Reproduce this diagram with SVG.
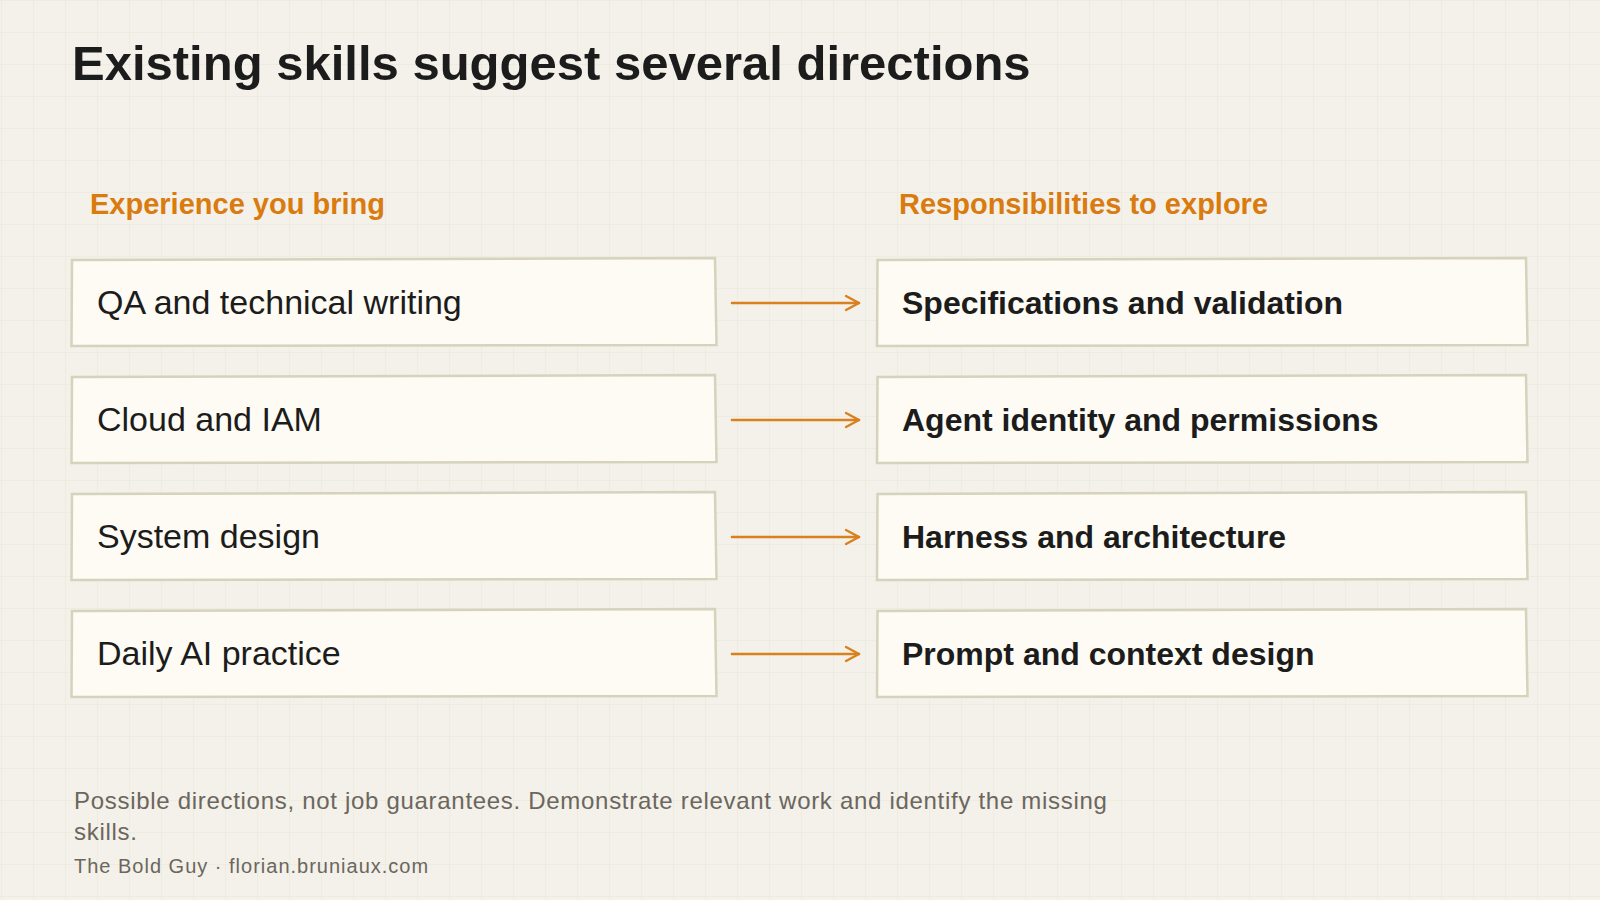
<svg xmlns="http://www.w3.org/2000/svg" width="1600" height="900" viewBox="0 0 1600 900">
  <defs>
    <pattern id="grid" width="32" height="32" patternUnits="userSpaceOnUse" x="1" y="0">
      <path d="M0 0 H32 M0 0 V32" fill="none" stroke="#e9e6da" stroke-width="1"/>
    </pattern>
    <marker id="chev" markerUnits="userSpaceOnUse" markerWidth="20" markerHeight="20" refX="15" refY="10" orient="auto">
      <path d="M2 3 L15 10 L2 17" fill="none" stroke="#d9801f" stroke-width="2.4" stroke-linecap="round" stroke-linejoin="round"/>
    </marker>
  </defs>
  <style>
    .title { font-family: "Liberation Sans", Arial, sans-serif; font-weight: 700; font-size: 49px; fill: #1c1c1c; }
    .head { font-family: "Liberation Sans", Arial, sans-serif; font-weight: 700; font-size: 29px; fill: #d97b0f; }
    .box { fill: #fdfbf3; stroke: #d6d2bd; stroke-width: 2.5; stroke-linejoin: miter; }
    .lt { font-family: "Liberation Sans", Arial, sans-serif; font-size: 34px; fill: #1c1c1c; }
    .rt { font-family: "Liberation Sans", Arial, sans-serif; font-weight: 700; font-size: 32px; fill: #1c1c1c; }
    .arrow { fill: none; stroke: #d9801f; stroke-width: 2.6; stroke-linecap: round; marker-end: url(#chev); }
    .foot { font-family: "Liberation Sans", Arial, sans-serif; font-size: 24px; letter-spacing: 0.7px; fill: #6b665e; }
    .credit { font-family: "Liberation Sans", Arial, sans-serif; font-size: 20px; letter-spacing: 1px; fill: #6b665e; }
  </style>

  <rect width="1600" height="900" fill="#f3f1e9"/>
  <rect width="1600" height="900" fill="url(#grid)"/>

  <text class="title" x="72" y="80">Existing skills suggest several directions</text>
  <text class="head" x="90" y="214">Experience you bring</text>
  <text class="head" x="899" y="214">Responsibilities to explore</text>

  <g id="left-1">
    <path class="box" d="M72 260 L715 258 L716.5 345 L71.5 346 Z"/>
    <text class="lt" x="97" y="314">QA and technical writing</text>
  </g>
  <g id="left-2">
    <path class="box" d="M72 377 L715 375 L716.5 462 L71.5 463 Z"/>
    <text class="lt" x="97" y="431">Cloud and IAM</text>
  </g>
  <g id="left-3">
    <path class="box" d="M72 494 L715 492 L716.5 579 L71.5 580 Z"/>
    <text class="lt" x="97" y="548">System design</text>
  </g>
  <g id="left-4">
    <path class="box" d="M72 611 L715 609 L716.5 696 L71.5 697 Z"/>
    <text class="lt" x="97" y="665">Daily AI practice</text>
  </g>

  <g id="right-1">
    <path class="box" d="M877.5 260 L1526 258 L1527.5 345 L877 346 Z"/>
    <text class="rt" x="902" y="314">Specifications and validation</text>
  </g>
  <g id="right-2">
    <path class="box" d="M877.5 377 L1526 375 L1527.5 462 L877 463 Z"/>
    <text class="rt" x="902" y="431">Agent identity and permissions</text>
  </g>
  <g id="right-3">
    <path class="box" d="M877.5 494 L1526 492 L1527.5 579 L877 580 Z"/>
    <text class="rt" x="902" y="548">Harness and architecture</text>
  </g>
  <g id="right-4">
    <path class="box" d="M877.5 611 L1526 609 L1527.5 696 L877 697 Z"/>
    <text class="rt" x="902" y="665">Prompt and context design</text>
  </g>

  <g id="connectors">
    <path class="arrow" d="M732 303 L859 303"/>
    <path class="arrow" d="M732 420 L859 420"/>
    <path class="arrow" d="M732 537 L859 537"/>
    <path class="arrow" d="M732 654 L859 654"/>
  </g>

  <g id="footer">
    <text class="foot" x="74" y="809">Possible directions, not job guarantees. Demonstrate relevant work and identify the missing</text>
    <text class="foot" x="74" y="840">skills.</text>
    <text class="credit" x="74" y="873">The Bold Guy · florian.bruniaux.com</text>
  </g>
</svg>
